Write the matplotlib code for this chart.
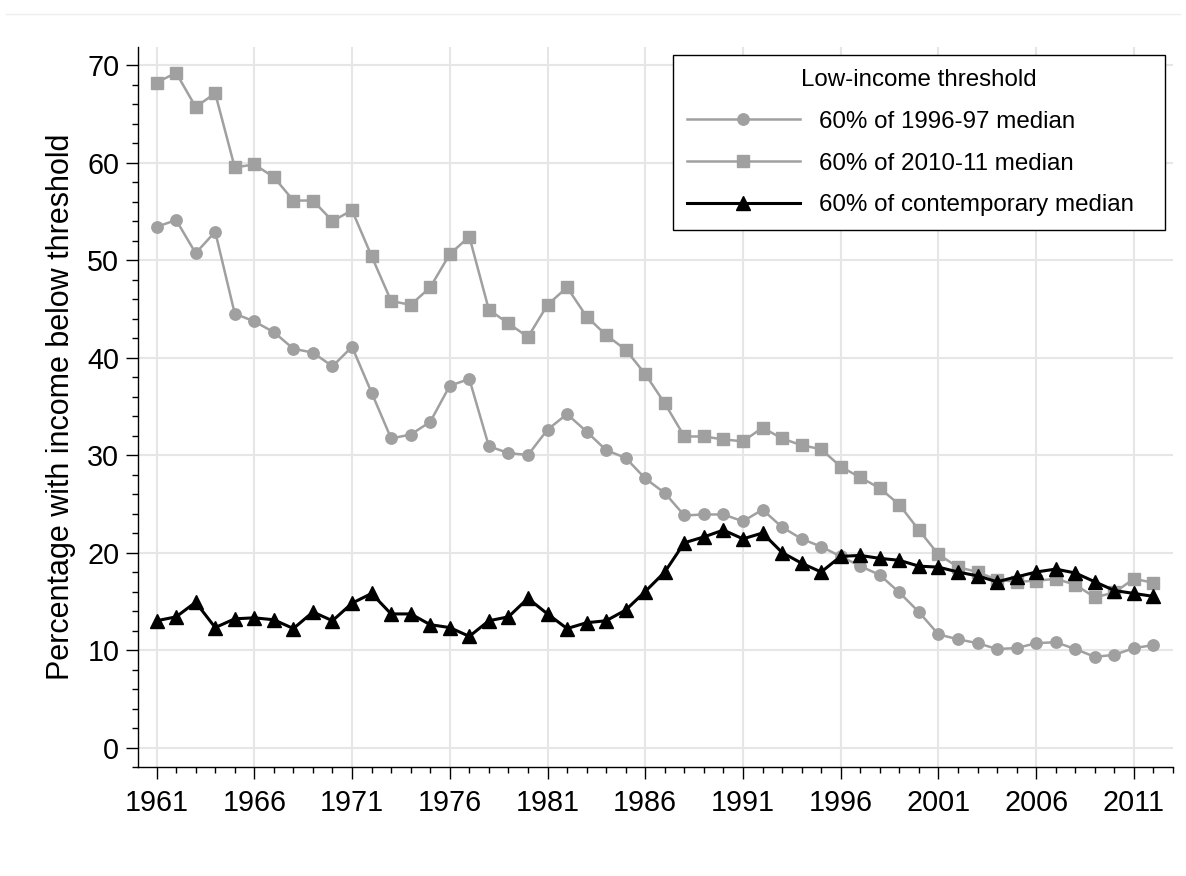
import matplotlib
matplotlib.use("Agg")
import matplotlib.pyplot as plt
from matplotlib.ticker import MultipleLocator
from matplotlib.lines import Line2D

plt.rcParams['font.family'] = ['Liberation Sans', 'DejaVu Sans']

years = list(range(1961, 2013))

median_1996_97 = [53.4, 54.1, 50.7, 52.9, 44.5, 43.7, 42.6, 40.9, 40.5, 39.1,
                  41.1, 36.4, 31.7, 32.1, 33.4, 37.1, 37.8, 30.9, 30.2, 30.0,
                  32.6, 34.2, 32.4, 30.5, 29.7, 27.6, 26.1, 23.8, 23.9, 23.9,
                  23.2, 24.4, 22.6, 21.4, 20.6, 19.6, 18.6, 17.7, 15.9, 13.9,
                  11.6, 11.1, 10.7, 10.1, 10.2, 10.7, 10.8, 10.1, 9.3, 9.5,
                  10.2, 10.5]

median_2010_11 = [68.2, 69.2, 65.7, 67.1, 59.5, 59.8, 58.5, 56.1, 56.1, 54.0,
                  55.1, 50.4, 45.8, 45.4, 47.2, 50.6, 52.4, 44.9, 43.5, 42.1,
                  45.4, 47.2, 44.2, 42.3, 40.8, 38.3, 35.3, 31.9, 31.9, 31.6,
                  31.4, 32.8, 31.7, 31.0, 30.6, 28.8, 27.7, 26.6, 24.9, 22.3,
                  19.8, 18.5, 18.0, 17.2, 17.0, 17.1, 17.3, 16.7, 15.4, 15.9,
                  17.3, 16.9]

contemporary = [13.0, 13.4, 14.9, 12.3, 13.2, 13.3, 13.1, 12.2, 13.9, 13.0,
                14.8, 15.8, 13.7, 13.7, 12.6, 12.3, 11.4, 13.0, 13.4, 15.3,
                13.7, 12.2, 12.8, 13.0, 14.1, 16.0, 18.0, 21.0, 21.6, 22.3,
                21.4, 22.0, 20.0, 18.9, 18.0, 19.6, 19.7, 19.4, 19.2, 18.6,
                18.5, 18.0, 17.6, 17.0, 17.5, 18.0, 18.3, 17.9, 17.0, 16.1,
                15.8, 15.5]

labels = ["60% of 1996-97 median", "60% of 2010-11 median",
          "60% of contemporary median"]
legend_title = "Low-income threshold"
ylabel = "Percentage with income below threshold"
xticks = list(range(1961, 2012, 5))
yticks = list(range(0, 71, 10))

W, H = 1186, 876
fig = plt.figure(figsize=(W / 100, H / 100), dpi=100)
ax_l, ax_r, ax_t, ax_b = 138, 1173, 46.5, 767
ax = fig.add_axes([ax_l / W, 1 - ax_b / H, (ax_r - ax_l) / W, (ax_b - ax_t) / H])

gray = '#a0a0a0'
ax.plot(years, median_1996_97, color=gray, lw=1.8, marker='o', ms=8.2,
        mec=gray, mfc=gray, label=labels[0], zorder=3)
ax.plot(years, median_2010_11, color=gray, lw=1.8, marker='s', ms=8.8,
        mec=gray, mfc=gray, label=labels[1], zorder=3)
ax.plot(years, contemporary, color='black', lw=2.2, marker='^', ms=10,
        mec='black', mfc='black', label=labels[2], zorder=4)

ax.set_xlim(1960.05, 2013.0)
ax.set_ylim(-2, 71.9)
ax.set_xticks(xticks)
ax.set_yticks(yticks)
ax.xaxis.set_minor_locator(MultipleLocator(1))
ax.yaxis.set_minor_locator(MultipleLocator(2))
ax.grid(True, which='major', color='#e6e6e6', lw=1.5, zorder=0)
ax.set_axisbelow(True)

for s in ['top', 'right']:
    ax.spines[s].set_visible(False)
for s in ['left', 'bottom']:
    ax.spines[s].set_color('black')
    ax.spines[s].set_linewidth(1.0)

ax.tick_params(axis='both', which='major', length=8.5, width=1.0,
               labelsize=20.7, color='black')
ax.tick_params(axis='y', which='major', pad=5)
ax.tick_params(axis='x', which='major', pad=7)
ax.tick_params(axis='both', which='minor', length=4.5, width=1.0)

ax.set_ylabel(ylabel, fontsize=22, labelpad=8)

# legend box placed to match the reference frame (x 673-1165 px, top 55 px)
lx0 = (673 - ax_l) / (ax_r - ax_l)
lx1 = (1165 - ax_l) / (ax_r - ax_l)
ly1 = (ax_b - 55) / (ax_b - ax_t)
leg = ax.legend(title=legend_title, loc='upper left', fontsize=17.4,
                title_fontsize=17.4, frameon=True, fancybox=False,
                edgecolor='black', framealpha=1, borderaxespad=0,
                bbox_to_anchor=(lx0, ly1 - 0.3, lx1 - lx0, 0.3),
                mode='expand',
                handlelength=4.67, handletextpad=0.79, labelspacing=0.82,
                borderpad=0.58, numpoints=1)
leg.get_frame().set_linewidth(1.0)

fig.add_artist(Line2D([6 / W, 1180 / W], [1 - 14 / H, 1 - 14 / H],
                      color='#eeeeee', lw=1.0, transform=fig.transFigure))

fig.savefig('out.png', dpi=100)
